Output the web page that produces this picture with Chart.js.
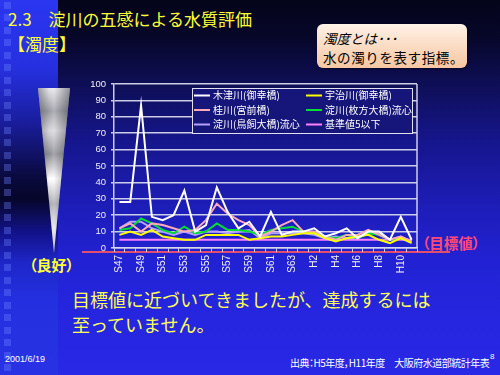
<!DOCTYPE html>
<html><head><meta charset="utf-8">
<script src="https://cdn.jsdelivr.net/npm/chart.js@4.4.1/dist/chart.umd.min.js"></script>
<style>
html,body{margin:0;padding:0;}
body{width:500px;height:375px;overflow:hidden;position:relative;font-family:"Noto Sans CJK JP",sans-serif;
background:linear-gradient(to bottom,#04041a 0%,#07072a 10%,#0e0e55 22%,#16168e 38%,#1d1db8 55%,#2222d4 70%,#2626e0 85%,#2828e6 100%);}
#strip{position:absolute;left:0;top:0;width:58px;height:375px;background:linear-gradient(to bottom,#2a36f0 0%,#2630e0 18%,#1a1ea0 32%,#0a0a40 47%,#06062a 53%,#12128a 62%,#1e26c8 70%,#2430e0 80%,#2832e4 100%);}
#squares{position:absolute;left:4px;top:2px;width:7px;height:370px;background:repeating-linear-gradient(to bottom,rgba(110,130,255,0.35) 0 7px,transparent 7px 12.5px);}
#tri{position:absolute;left:38px;top:88px;width:32px;height:165px;clip-path:polygon(0 0,100% 0,50% 100%);
background:linear-gradient(to right,rgba(60,60,70,0.45) 0%,rgba(255,255,255,0) 35%,rgba(255,255,255,0.2) 50%,rgba(60,60,70,0.5) 100%),linear-gradient(to bottom,#e8e8ec 0%,#9a9aa2 14%,#d8d8dc 26%,#8c8c94 40%,#ffffff 55%,#a8a8b0 70%,#e6e6ea 85%,#b0b0b8 100%);}
#title{position:absolute;left:8px;top:6px;color:#ffff33;font-size:17px;line-height:25px;white-space:nowrap;}
#callout{position:absolute;left:317px;top:24px;width:150px;height:44px;border-radius:6px;background:linear-gradient(to bottom,#fff2e8,#f6c6a0);box-shadow:1px 1px 2px rgba(0,0,0,0.4);}
#callout div{position:absolute;left:6px;color:#000;font-size:13.5px;white-space:nowrap;}
#good{position:absolute;left:29px;top:254px;color:#ffff33;font-size:15px;font-weight:bold;font-feature-settings:"palt";white-space:nowrap;}
#target{position:absolute;left:422px;top:232px;color:#ff4a78;font-size:14.5px;font-weight:bold;font-feature-settings:"palt";white-space:nowrap;}
#tline{position:absolute;left:82px;top:251px;width:368px;height:2px;background:#e0506e;}
#msg{position:absolute;left:72px;top:287px;color:#ffff55;font-size:18px;line-height:25px;white-space:nowrap;}
#date{position:absolute;left:5px;top:354px;color:#fff;font-size:9px;font-family:"Liberation Sans",Arial,sans-serif;}
#src{position:absolute;left:290px;top:355px;color:#fff;font-size:10px;white-space:nowrap;letter-spacing:-0.5px;font-feature-settings:"palt";}
#pg{position:absolute;left:490px;top:352px;color:#fff;font-size:8px;font-family:"Liberation Sans",Arial,sans-serif;}
canvas{position:absolute;left:0;top:0;}
</style></head>
<body>
<div id="strip"></div><div id="squares"></div>
<div id="tri"></div>
<div id="title">2.3　淀川の五感による水質評価<br>【濁度】</div>
<div id="callout"><div style="top:4px;font-style:italic;">濁度とは･･･</div><div style="top:23px;letter-spacing:0.6px;">水の濁りを表す指標。</div></div>
<div id="tline"></div>
<div id="good">（良好）</div>
<div id="target">（目標値）</div>
<div id="msg">目標値に近づいてきましたが、達成するには<br>至っていません。</div>
<div id="date">2001/6/19</div>
<div id="src">出典：H5年度，H11年度　大阪府水道部統計年表</div>
<div id="pg">8</div>
<canvas id="c" width="500" height="375"></canvas>
<script>
const categories = ['S47','S48','S49','S50','S51','S52','S53','S54','S55','S56','S57','S58','S59','S60','S61','S62','S63','H1','H2','H3','H4','H5','H6','H7','H8','H9','H10','H11'];
const kizugawa    = [28,28,87,19,17,20,35,10,14,37,22,12,16,7,22,8,10,10,12,7,9,12,6,10,10,5,19,5];
const ujigawa     = [8,10,8,11,7,6,5,5,8,8,8,8,5,6,7,7,8,9,9,6,4,6,7,8,5,3,6,3];
const katsuragawa = [12,15,10,15,14,12,10,11,17,27,21,17,14,7,10,14,17,10,10,7,5,8,8,11,8,5,7,4];
const hirakata    = [11,12,18,15,11,9,13,9,10,15,11,11,10,8,11,12,13,10,9,7,6,8,6,9,8,5,6,4];
const torikai     = [12,16,16,12,10,8,10,8,10,10,9,10,11,6,9,9,9,9,8,6,7,6,6,9,9,5,7,4];
const kijun       = [5,5,5,5,5,5,5,5,5,5,5,5,5,5,5,5,5,5,5,5,5,5,5,5,5,5,5,5];
const seriesNames = ['木津川(御幸橋)','宇治川(御幸橋)','桂川(宮前橋)','淀川(枚方大橋)流心','淀川(鳥飼大橋)流心','基準値5以下'];
const seriesColors = ['#ffffff','#ffff00','#ffaab8','#00dd33','#b4a0ff','#ff80ff'];
const seriesData = [kizugawa,ujigawa,katsuragawa,hirakata,torikai,kijun];

const gridColor = 'rgba(215,215,235,0.95)';
const framePlugin = {
  id:'frame',
  beforeDatasetsDraw(chart){
    const {ctx, chartArea:a} = chart;
    ctx.save(); ctx.strokeStyle = gridColor; ctx.lineWidth = 1.5;
    ctx.beginPath(); ctx.moveTo(a.right, a.top); ctx.lineTo(a.right, a.bottom); ctx.stroke();
    ctx.restore();
  },
  afterDraw(chart){
    const {ctx, chartArea:a} = chart;
    const x0 = a.left + 78, y0 = a.top + 4, w = 220, h = 45;
    ctx.save();
    ctx.fillStyle = '#15157a'; ctx.fillRect(x0, y0, w, h);
    ctx.strokeStyle = '#e0e0f0'; ctx.lineWidth = 1; ctx.strokeRect(x0 + 0.5, y0 + 0.5, w, h);
    ctx.font = '10px "Noto Sans CJK JP"'; ctx.textBaseline = 'middle'; ctx.textAlign = 'left';
    chart.data.datasets.forEach((ds, i) => {
      const col = i % 2, row = Math.floor(i / 2);
      const lx = x0 + 2 + col * 112, ly = y0 + 7.5 + row * 14.5;
      ctx.strokeStyle = ds.borderColor; ctx.lineWidth = 2;
      ctx.beginPath(); ctx.moveTo(lx, ly); ctx.lineTo(lx + 16, ly); ctx.stroke();
      ctx.fillStyle = '#ffffff'; ctx.fillText(ds.label, lx + 19, ly);
    });
    ctx.restore();
  }
};

new Chart(document.getElementById('c'), {
  type:'line',
  data:{labels:categories, datasets:seriesNames.map((n,i)=>({label:n, data:seriesData[i], borderColor:seriesColors[i], backgroundColor:seriesColors[i]}))},
  options:{
    responsive:false, animation:false, devicePixelRatio:1,
    layout:{padding:{left:80,right:83,top:84,bottom:97}},
    elements:{point:{radius:0}, line:{borderWidth:2, tension:0}},
    plugins:{legend:{display:false}, tooltip:{enabled:false}},
    scales:{
      x:{offset:true,
        grid:{display:true, drawOnChartArea:false, offset:true, color:gridColor, tickLength:4, lineWidth:1},
        border:{color:gridColor, width:1.5},
        ticks:{autoSkip:false, maxRotation:90, minRotation:90, color:'#f0f0f8', padding:3,
          font:{family:'"Liberation Sans", Arial, sans-serif', size:10},
          callback:(v,i)=> i%2===0 ? categories[i] : ''},
        afterFit:s=>{s.height=30;}},
      y:{min:0, max:100,
        ticks:{stepSize:10, color:'#f0f0f8', padding:5, font:{family:'"Liberation Sans", Arial, sans-serif', size:9.5}},
        grid:{color:gridColor, lineWidth:1.5, tickLength:3},
        border:{color:gridColor, width:1.5},
        afterFit:s=>{s.width=34;}}
    }
  },
  plugins:[framePlugin]
});
</script>
</body></html>
